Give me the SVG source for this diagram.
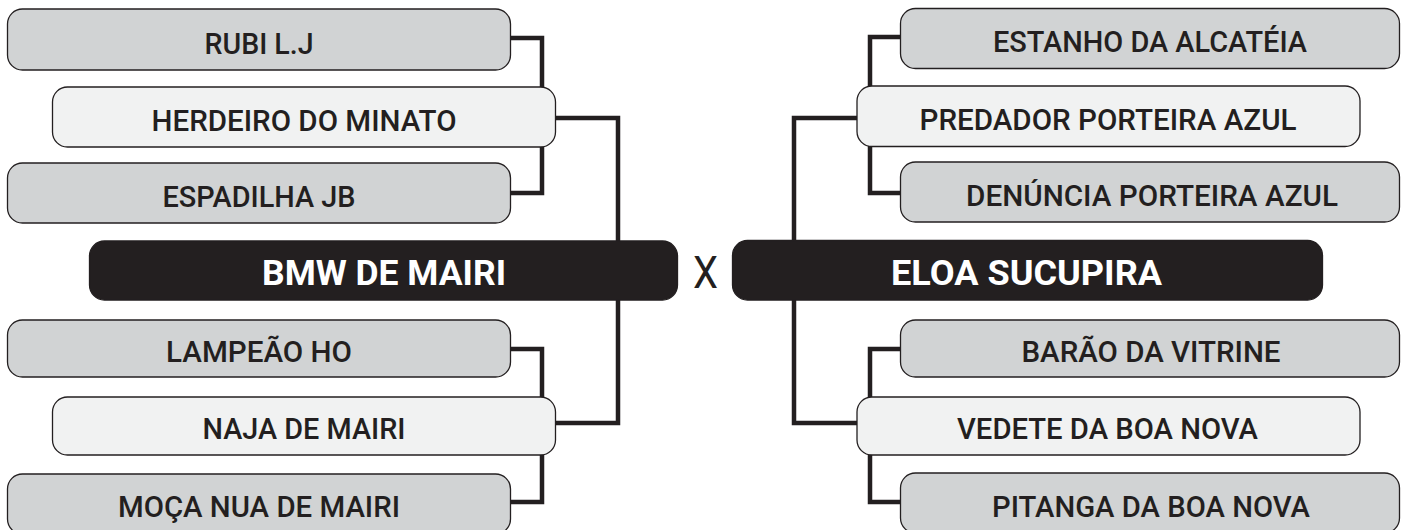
<svg xmlns="http://www.w3.org/2000/svg" width="1401" height="530" viewBox="0 0 1401 530">
<style>
.box{stroke:#231f20;stroke-width:1.3}
.g{fill:#d1d3d4}
.l{fill:#f1f2f2}
.d{fill:#231f20}
.t{font-family:Roboto,"Liberation Sans",sans-serif;font-size:30px;font-weight:500;fill:#231f20;text-anchor:middle}
.tb{font-family:Roboto,"Liberation Sans",sans-serif;font-size:35px;font-weight:700;fill:#ffffff;text-anchor:middle}
.x{font-family:Roboto,"Liberation Sans",sans-serif;font-size:45px;font-weight:400;fill:#231f20;text-anchor:middle}
.c{fill:none;stroke:#231f20;stroke-width:4.5;stroke-linejoin:miter}
</style>
<rect width="1401" height="530" fill="#ffffff"/>
<g id="connectors">
<path class="c" d="M511 38 H542 V193 H511"/>
<path class="c" d="M555 118 H618 V423 H555"/>
<path class="c" d="M511 349 H542 V502 H511"/>
<path class="c" d="M900 37 H870 V193 H900"/>
<path class="c" d="M857 118 H794 V423 H857"/>
<path class="c" d="M900 349 H870 V502 H900"/>
</g>
<g id="rubi"><rect class="box g" x="7.5" y="9" width="503" height="61" rx="15"/><text class="t" x="259" y="53.5" textLength="109" lengthAdjust="spacingAndGlyphs">RUBI L.J</text></g>
<g id="herdeiro"><rect class="box l" x="52.5" y="87" width="503" height="60" rx="15"/><text class="t" x="304" y="130.5" textLength="305" lengthAdjust="spacingAndGlyphs">HERDEIRO DO MINATO</text></g>
<g id="espadilha"><rect class="box g" x="7.5" y="163" width="503" height="60" rx="15"/><text class="t" x="259" y="206.5" textLength="193" lengthAdjust="spacingAndGlyphs">ESPADILHA JB</text></g>
<g id="bmw"><rect class="box d" x="89.5" y="241" width="588" height="59" rx="15"/><text class="tb" x="384" y="285" textLength="244" lengthAdjust="spacingAndGlyphs">BMW DE MAIRI</text></g>
<g id="lampeao"><rect class="box g" x="7.5" y="320" width="503" height="57" rx="15"/><text class="t" x="259" y="362" textLength="186" lengthAdjust="spacingAndGlyphs">LAMPEÃO HO</text></g>
<g id="naja"><rect class="box l" x="52.5" y="397" width="503" height="58" rx="15"/><text class="t" x="304" y="439" textLength="203" lengthAdjust="spacingAndGlyphs">NAJA DE MAIRI</text></g>
<g id="moca"><rect class="box g" x="7.5" y="474" width="503" height="60" rx="15"/><text class="t" x="259" y="517" textLength="282" lengthAdjust="spacingAndGlyphs">MOÇA NUA DE MAIRI</text></g>
<g id="x"><text class="x" x="705.5" y="288" textLength="25" lengthAdjust="spacingAndGlyphs">X</text></g>
<g id="estanho"><rect class="box g" x="900.5" y="8.5" width="499" height="60" rx="15"/><text class="t" x="1150" y="52" textLength="314" lengthAdjust="spacingAndGlyphs">ESTANHO DA ALCATÉIA</text></g>
<g id="predador"><rect class="box l" x="857" y="86" width="503" height="60.5" rx="15"/><text class="t" x="1108" y="130" textLength="377" lengthAdjust="spacingAndGlyphs">PREDADOR PORTEIRA AZUL</text></g>
<g id="denuncia"><rect class="box g" x="900.5" y="162" width="499" height="60" rx="15"/><text class="t" x="1152" y="205.5" textLength="372" lengthAdjust="spacingAndGlyphs">DENÚNCIA PORTEIRA AZUL</text></g>
<g id="eloa"><rect class="box d" x="732.5" y="240.5" width="590" height="59.5" rx="15"/><text class="tb" x="1026.5" y="285" textLength="271" lengthAdjust="spacingAndGlyphs">ELOA SUCUPIRA</text></g>
<g id="barao"><rect class="box g" x="900.5" y="320" width="499" height="57" rx="15"/><text class="t" x="1151" y="362" textLength="259" lengthAdjust="spacingAndGlyphs">BARÃO DA VITRINE</text></g>
<g id="vedete"><rect class="box l" x="857" y="397" width="503" height="58" rx="15"/><text class="t" x="1107.5" y="439" textLength="301" lengthAdjust="spacingAndGlyphs">VEDETE DA BOA NOVA</text></g>
<g id="pitanga"><rect class="box g" x="900.5" y="473" width="499" height="60" rx="15"/><text class="t" x="1151" y="516.5" textLength="318" lengthAdjust="spacingAndGlyphs">PITANGA DA BOA NOVA</text></g>
</svg>
